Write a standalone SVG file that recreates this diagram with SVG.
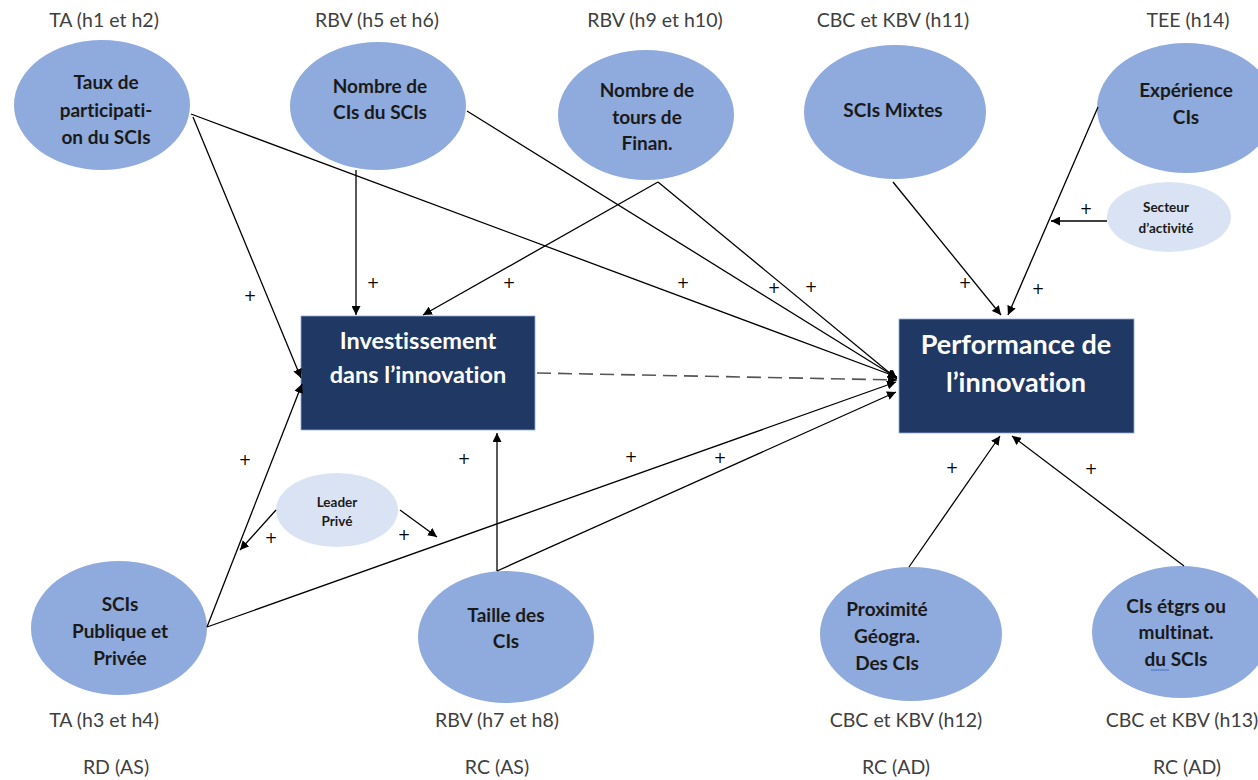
<svg xmlns="http://www.w3.org/2000/svg" width="1258" height="780" viewBox="0 0 1258 780">
<style>
text{font-variant-ligatures:none;font-feature-settings:"liga" 0,"clig" 0}
.bg{fill:#ffffff}
.ell{fill:#8faadc}
.sm{fill:#dae3f3}
.box{fill:#203864;stroke:#8faadc;stroke-width:0.8}
.t{font-family:Lato,"Liberation Sans",sans-serif;font-weight:bold;font-size:19px;fill:#1a1a1a;text-anchor:middle}
.ts{font-family:Lato,"Liberation Sans",sans-serif;font-weight:bold;font-size:13.5px;fill:#1a1a1a;text-anchor:middle}
.tb{font-family:Lato,"Liberation Sans",sans-serif;font-weight:bold;font-size:23.5px;fill:#ffffff;text-anchor:middle}
.tb2{font-family:Lato,"Liberation Sans",sans-serif;font-weight:bold;font-size:27px;fill:#ffffff;text-anchor:middle}
.lab{font-family:Lato,"Liberation Sans",sans-serif;font-size:19.5px;fill:#404040;text-anchor:middle}
.plus{font-family:"DejaVu Sans",sans-serif;font-size:15px;fill:#000;text-anchor:middle}
.c{stroke:#000;stroke-width:1.3;fill:none;marker-end:url(#ah)}
.d{stroke:#555;stroke-width:1.6;fill:none;stroke-dasharray:14 7;marker-end:url(#ah)}
</style>
<defs>
<marker id="ah" viewBox="0 0 10 10" refX="10" refY="5" markerWidth="9" markerHeight="9" markerUnits="userSpaceOnUse" orient="auto">
<path d="M0,0 L10,5 L0,10 z" fill="#000"/>
</marker>
</defs>
<rect class="bg" x="0" y="0" width="1258" height="780"/>

<g id="labels">
<text class="lab" x="104" y="27">TA (h1 et h2)</text>
<text class="lab" x="377" y="27">RBV (h5 et h6)</text>
<text class="lab" x="655" y="27">RBV (h9 et h10)</text>
<text class="lab" x="893" y="27">CBC et KBV (h11)</text>
<text class="lab" x="1188" y="27">TEE (h14)</text>
<text class="lab" x="104" y="727">TA (h3 et h4)</text>
<text class="lab" x="497" y="727">RBV (h7 et h8)</text>
<text class="lab" x="906" y="727">CBC et KBV (h12)</text>
<text class="lab" x="1182" y="727">CBC et KBV (h13)</text>
<text class="lab" x="116" y="774">RD (AS)</text>
<text class="lab" x="497" y="774">RC (AS)</text>
<text class="lab" x="896" y="774">RC (AD)</text>
<text class="lab" x="1187" y="774">RC (AD)</text>
</g>

<g id="n-taux">
<ellipse class="ell" cx="102" cy="105" rx="88" ry="65"/>
<text class="t" x="106" y="89">Taux de</text>
<text class="t" x="106" y="117">participati-</text>
<text class="t" x="106" y="144">on du SCIs</text>
</g>
<g id="n-nombre-cis">
<ellipse class="ell" cx="378" cy="106" rx="88" ry="64"/>
<text class="t" x="380" y="93">Nombre de</text>
<text class="t" x="380" y="119">CIs du SCIs</text>
</g>
<g id="n-tours">
<ellipse class="ell" cx="646" cy="115" rx="88" ry="65"/>
<text class="t" x="647" y="97">Nombre de</text>
<text class="t" x="647" y="124">tours de</text>
<text class="t" x="647" y="150">Finan.</text>
</g>
<g id="n-mixtes">
<ellipse class="ell" cx="895" cy="112" rx="91" ry="67"/>
<text class="t" x="893" y="117">SCIs Mixtes</text>
</g>
<g id="n-experience">
<ellipse class="ell" cx="1186" cy="108" rx="89" ry="65"/>
<text class="t" x="1186" y="97">Expérience</text>
<text class="t" x="1186" y="124">CIs</text>
</g>
<g id="n-secteur">
<ellipse class="sm" cx="1169" cy="217" rx="62" ry="35"/>
<text class="ts" x="1166" y="212">Secteur</text>
<text class="ts" x="1166" y="233">d’activité</text>
</g>
<g id="n-leader">
<ellipse class="sm" cx="337" cy="510" rx="61" ry="37"/>
<text class="ts" x="337" y="507">Leader</text>
<text class="ts" x="337" y="526">Privé</text>
</g>
<g id="n-publique">
<ellipse class="ell" cx="119" cy="628" rx="88" ry="67"/>
<text class="t" x="120" y="611">SCIs</text>
<text class="t" x="120" y="638">Publique et</text>
<text class="t" x="120" y="665">Privée</text>
</g>
<g id="n-taille">
<ellipse class="ell" cx="506" cy="637" rx="88" ry="66"/>
<text class="t" x="506" y="622">Taille des</text>
<text class="t" x="506" y="648">CIs</text>
</g>
<g id="n-proximite">
<ellipse class="ell" cx="911" cy="634" rx="91" ry="67"/>
<text class="t" x="887" y="616">Proximité</text>
<text class="t" x="887" y="643">Géogra.</text>
<text class="t" x="887" y="670">Des CIs</text>
</g>
<g id="n-etrangers">
<ellipse class="ell" cx="1181" cy="632" rx="89" ry="66"/>
<text class="t" x="1176" y="613">CIs étgrs ou</text>
<text class="t" x="1176" y="639">multinat.</text>
<text class="t" x="1176" y="666">du SCIs</text>
<line x1="1151" y1="670" x2="1169" y2="670" stroke="#4472c4" stroke-width="1"/>
</g>
<g id="n-investissement">
<rect class="box" x="301" y="316" width="234" height="114"/>
<text class="tb" x="418" y="349">Investissement</text>
<text class="tb" x="418" y="383">dans l’innovation</text>
</g>
<g id="n-performance">
<rect class="box" x="899" y="319" width="235" height="114"/>
<text class="tb2" x="1016" y="354">Performance de</text>
<text class="tb2" x="1016" y="392">l’innovation</text>
</g>

<g id="connectors">
<line class="c" x1="193" y1="117" x2="301" y2="378"/>
<line class="c" x1="191" y1="114" x2="897" y2="377"/>
<line class="c" x1="356" y1="170" x2="356" y2="315"/>
<line class="c" x1="467" y1="111" x2="897" y2="378"/>
<line class="c" x1="658" y1="182" x2="423" y2="315"/>
<line class="c" x1="658" y1="182" x2="897" y2="379"/>
<line class="c" x1="893" y1="182" x2="1001" y2="315"/>
<line class="c" x1="1098" y1="107" x2="1008" y2="315"/>
<line class="c" x1="1107" y1="221" x2="1051" y2="221"/>
<line class="d" x1="537" y1="373" x2="897" y2="380"/>
<line class="c" x1="207" y1="627" x2="302" y2="384"/>
<line class="c" x1="207" y1="627" x2="896" y2="382"/>
<line class="c" x1="497" y1="571" x2="896" y2="392"/>
<line class="c" x1="497" y1="571" x2="497" y2="433"/>
<line class="c" x1="276" y1="510" x2="240" y2="550"/>
<line class="c" x1="400" y1="510" x2="437" y2="537"/>
<line class="c" x1="909" y1="567" x2="1000" y2="436"/>
<line class="c" x1="1184" y1="566" x2="1012" y2="436"/>
</g>

<g id="signs">
<text class="plus" x="250" y="301">+</text>
<text class="plus" x="373" y="288">+</text>
<text class="plus" x="509" y="288">+</text>
<text class="plus" x="683" y="288">+</text>
<text class="plus" x="774" y="293">+</text>
<text class="plus" x="811" y="292">+</text>
<text class="plus" x="965" y="288">+</text>
<text class="plus" x="1038" y="294">+</text>
<text class="plus" x="1086" y="214">+</text>
<text class="plus" x="245" y="465">+</text>
<text class="plus" x="271" y="543">+</text>
<text class="plus" x="404" y="540">+</text>
<text class="plus" x="464" y="464">+</text>
<text class="plus" x="631" y="462">+</text>
<text class="plus" x="720" y="463">+</text>
<text class="plus" x="952" y="473">+</text>
<text class="plus" x="1091" y="474">+</text>
</g>
</svg>
